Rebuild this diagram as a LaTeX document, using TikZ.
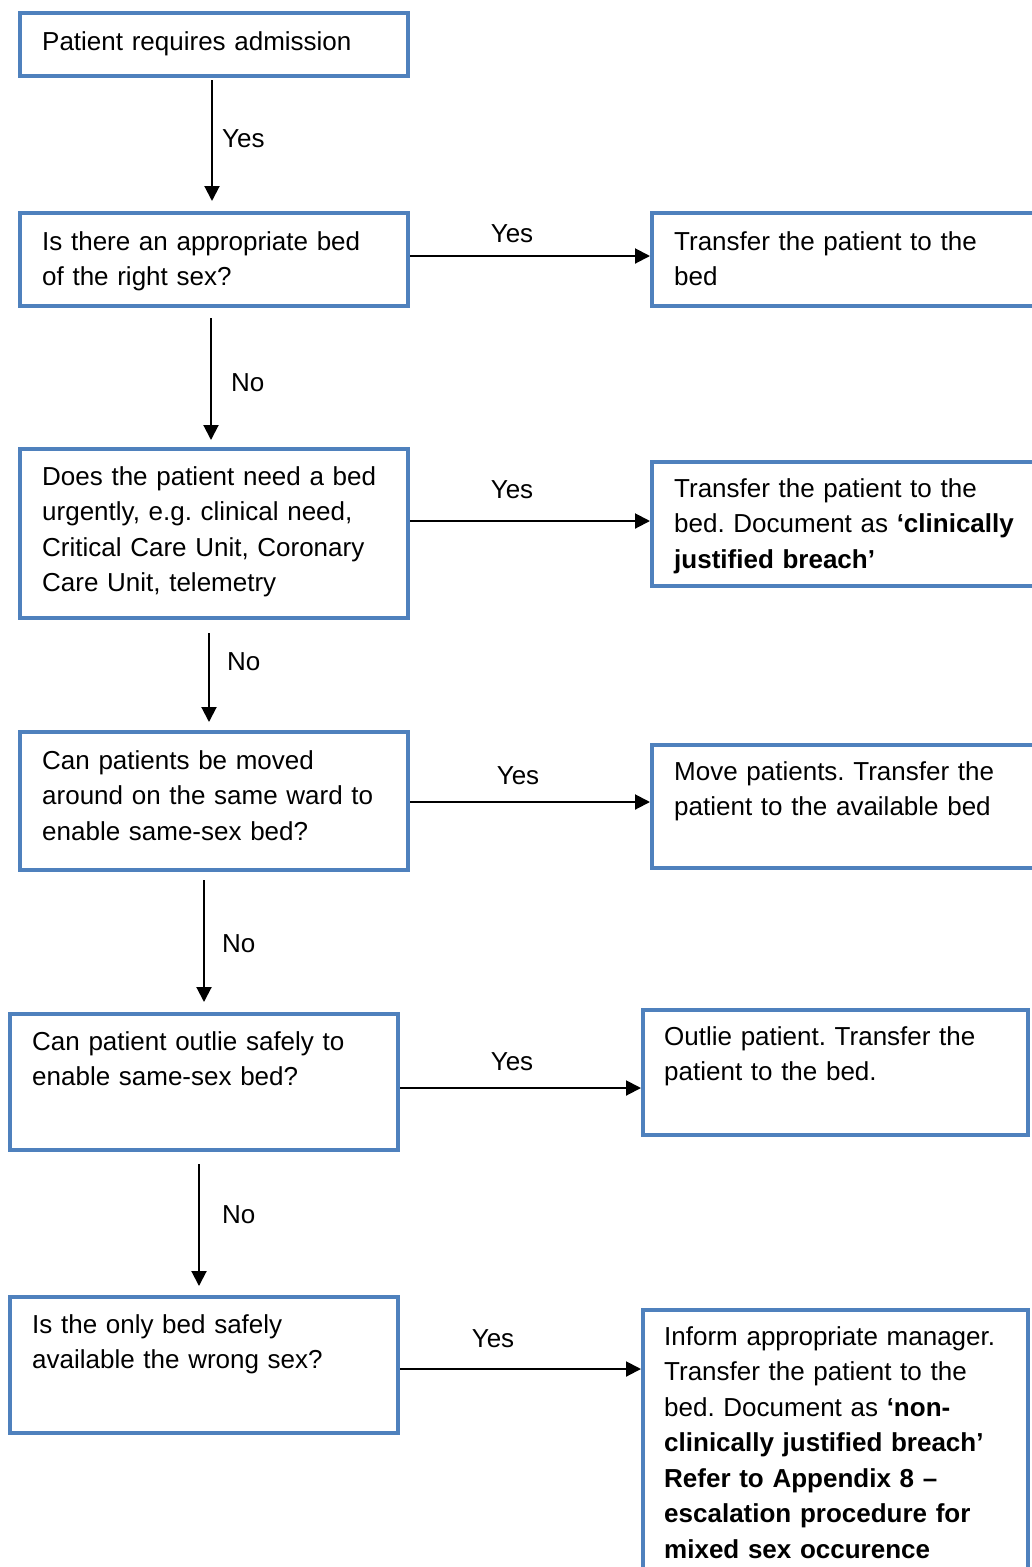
\documentclass[tikz,border=0pt]{standalone}
\usepackage{fontspec}
\setmainfont{Liberation Sans}
\usetikzlibrary{arrows.meta}
\definecolor{boxblue}{RGB}{79,129,189}
\frenchspacing
\begin{document}
\begin{tikzpicture}[x=1pt,y=-1pt,
  box/.style={draw=boxblue,line width=4pt,rectangle,inner sep=0pt},
  txt/.style={anchor=north west,inner sep=0pt,align=left,text width=#1,font=\fontsize{26}{35.5}\selectfont\frenchspacing},
  txt/.default=390pt,
  lbl/.style={anchor=base west,inner sep=0pt,font=\fontsize{26}{35.5}\selectfont},
  clbl/.style={anchor=base,inner sep=0pt,font=\fontsize{26}{35.5}\selectfont},
  arr/.style={line width=2pt,-{Triangle[length=15pt,width=15pt]}}]
\useasboundingbox (0,0) rectangle (1032,1567);
\fill[white] (0,0) rectangle (1032,1567);
\clip (0,0) rectangle (1032,1567);

% left boxes
\node[box,minimum width=388pt,minimum height=63pt]  (b1) at (214,44.5) {};
\node[box,minimum width=388pt,minimum height=93pt]  (b2) at (214,259.5) {};
\node[box,minimum width=388pt,minimum height=169pt] (b3) at (214,533.5) {};
\node[box,minimum width=388pt,minimum height=138pt] (b4) at (214,801) {};
\node[box,minimum width=388pt,minimum height=136pt] (b5) at (204,1082) {};
\node[box,minimum width=388pt,minimum height=136pt] (b6) at (204,1365) {};

% right boxes
\node[box,minimum width=408pt,minimum height=93pt]  (r1) at (856,259.5) {};
\node[box,minimum width=408pt,minimum height=124pt] (r2) at (856,524) {};
\node[box,minimum width=408pt,minimum height=123pt] (r3) at (856,806.5) {};
\node[box,minimum width=385pt,minimum height=125pt] (r4) at (835.5,1072.5) {};
\node[box,minimum width=385pt,minimum height=310pt] (r5) at (835.5,1465) {};

% texts
\node[txt] (t1) at (42,25.15) {\strut Patient requires admission};
\node[txt] (t2) at (42,225.15) {\strut Is there an appropriate bed\\of the right sex?};
\node[txt] (t3) at (42,460.15) {\strut Does the patient need a bed\\urgently, e.g. clinical need,\\Critical Care Unit, Coronary\\Care Unit, telemetry};
\node[txt] (t4) at (42,744.15) {\strut Can patients be moved\\around on the same ward to\\enable same-sex bed?};
\node[txt] (t5) at (32,1025.15) {\strut Can patient outlie safely to\\enable same-sex bed?};
\node[txt] (t6) at (32,1308.15) {\strut Is the only bed safely\\available the wrong sex?};

\node[txt=370pt] (u1) at (674,225.15) {\strut Transfer the patient to the\\bed};
\node[txt=370pt] (u2) at (674,472.15) {\strut Transfer the patient to the\\bed. Document as \textbf{‘clinically}\\\textbf{justified breach’}};
\node[txt=370pt] (u3) at (674,755.15) {\strut Move patients. Transfer the\\patient to the available bed};
\node[txt=360pt] (u4) at (664,1020.15) {\strut Outlie patient. Transfer the\\patient to the bed.};
\node[txt=360pt] (u5) at (664,1320.15) {\strut Inform appropriate manager.\\Transfer the patient to the\\bed. Document as \textbf{‘non-}\\\textbf{clinically justified breach’}\\\textbf{Refer to Appendix 8 –}\\\textbf{escalation procedure for}\\\textbf{mixed sex occurence}};

% vertical connectors
\draw[arr,shorten <=2pt,shorten >=10pt] ([xshift=-2pt]b1.south) -- ([xshift=-2pt]b1.south |- b2.north);
\draw[arr,shorten <=10pt,shorten >=7pt] ([xshift=-3pt]b2.south) -- ([xshift=-3pt]b2.south |- b3.north);
\draw[arr,shorten <=13pt,shorten >=8pt] ([xshift=-5pt]b3.south) -- ([xshift=-5pt]b3.south |- b4.north);
\draw[arr,shorten <=8pt,shorten >=10pt] ([xshift=-10pt]b4.south) -- ([xshift=-10pt]b4.south |- b5.north);
\draw[arr,shorten <=12pt,shorten >=9pt] ([xshift=-5pt]b5.south) -- ([xshift=-5pt]b5.south |- b6.north);

% horizontal connectors
\coordinate (s1) at ([yshift=3.5pt]b2.east);
\coordinate (s2) at ([yshift=12.5pt]b3.east);
\coordinate (s3) at ([yshift=-1pt]b4.east);
\coordinate (s4) at ([yshift=-6pt]b5.east);
\coordinate (s5) at ([yshift=-4pt]b6.east);
\draw[arr] (s1) -- (s1 -| r1.west);
\draw[arr] (s2) -- (s2 -| r2.west);
\draw[arr] (s3) -- (s3 -| r3.west);
\draw[arr] (s4) -- (s4 -| r4.west);
\draw[arr] (s5) -- (s5 -| r5.west);

% labels
\node[lbl] (l1) at (222,147) {Yes};
\node[lbl] (l2) at (231,391) {No};
\node[lbl] (l3) at (227,670) {No};
\node[lbl] (l4) at (222,952) {No};
\node[lbl] (l5) at (222,1223) {No};
\node[clbl] (m1) at (512,242) {Yes};
\node[clbl] (m2) at (512,498) {Yes};
\node[clbl] (m3) at (518,784) {Yes};
\node[clbl] (m4) at (512,1070) {Yes};
\node[clbl] (m5) at (493,1347) {Yes};
\end{tikzpicture}
\end{document}
